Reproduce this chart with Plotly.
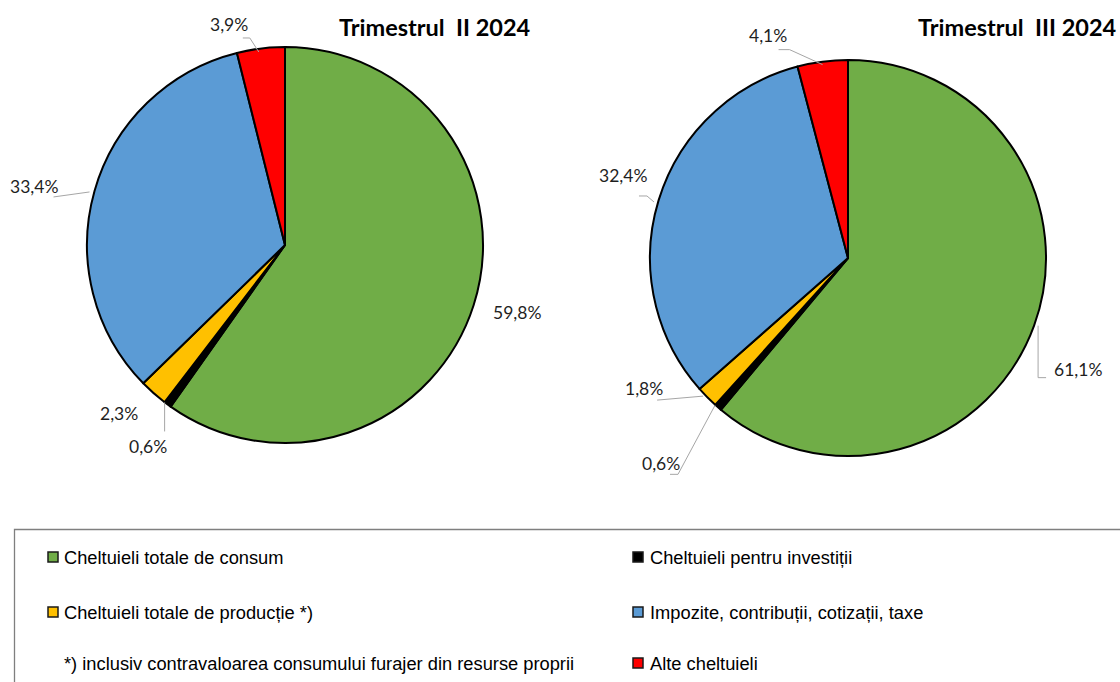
import math
import plotly.graph_objects as go

# ---------------- data ----------------
categories = [
    "Cheltuieli totale de consum",
    "Cheltuieli pentru investiții",
    "Cheltuieli totale de producție *)",
    "Impozite, contribuții, cotizații, taxe",
    "Alte cheltuieli",
]
q2_values = [59.8, 0.6, 2.3, 33.4, 3.9]
q3_values = [61.1, 0.6, 1.8, 32.4, 4.1]
titles = ["Trimestrul\u00a0 II 2024", "Trimestrul\u00a0 III 2024"]
footnote = "*) inclusiv contravaloarea consumului furajer din resurse proprii"

# ---------------- styles ----------------
colors = ["#70AD47", "#000000", "#FFC000", "#5B9BD5", "#FF0000"]
W, H = 1120, 682
LABEL_FONT = dict(family="Lato, Carlito, Calibri, sans-serif", size=17.5, color="#1f1f1f")
TITLE_FONT = dict(family="Lato, Carlito, Calibri, sans-serif", size=23.5, color="#000000")
LEGEND_FONT = dict(family="Liberation Sans, Arial, sans-serif", size=18.3, color="#000000")
LEADER_COLOR = "#A6A6A6"

# pie geometry (pixels) and per-slice label offsets / leader polylines (relative to slice anchor)
pie_styles = [
    dict(cx=285, cy=245, r=198, title_right=533, title_y=27,
         offsets=[(43, 7), (-20, 42), (-35, 20), (-61, -4), (-32, -23.5)],
         leaders=[None,
                  [(-3, -2), (-3, 27)],
                  None,
                  [(-5, 1), (-41, 6)],
                  [(-2, 3.5), (-11, -10.5), (-18, -10.5)]]),
    dict(cx=848, cy=258, r=198, title_right=1119, title_y=27,
         offsets=[(44, 44), (-57, 56), (-63, -9), (-36, -25), (-54.5, -26.6)],
         leaders=[[(4, 0), (4, 52), (12, 52)],
                  [(-3, -2), (-40, 67), (-48, 67)],
                  [(-4, -1), (-50, 3)],
                  [(-4.6, 1.6), (-11.6, -4.4), (-19.6, -4.4)],
                  [(0, 3), (-33, -12), (-44, -12)]]),
]


def px(x):
    return x / W


def py(y):
    return 1 - y / H


def fmt(v):
    return f"{v:.1f}".replace(".", ",") + "%"


fig = go.Figure()
annotations = []
shapes = []

for values, title, st in zip([q2_values, q3_values], titles, pie_styles):
    cx, cy, r = st["cx"], st["cy"], st["r"]
    fig.add_trace(go.Pie(
        values=values,
        labels=categories,
        marker=dict(colors=colors, line=dict(color="#000000", width=2)),
        sort=False,
        direction="clockwise",
        rotation=0,
        textinfo="none",
        showlegend=False,
        hovertemplate="%{label}: %{value}%<extra></extra>",
        domain=dict(x=[px(cx - r), px(cx + r)], y=[py(cy + r), py(cy - r)]),
    ))
    total = sum(values)
    cum = 0.0
    for v, off, lead in zip(values, st["offsets"], st["leaders"]):
        theta = 2 * math.pi * (cum + v / 2) / total
        cum += v
        ax = cx + r * math.sin(theta)
        ay = cy - r * math.cos(theta)
        annotations.append(dict(
            x=px(ax + off[0]), y=py(ay + off[1]), xref="paper", yref="paper",
            text=fmt(v), showarrow=False, xanchor="center", yanchor="middle",
            font=LABEL_FONT,
        ))
        if lead:
            path = "M " + " L ".join(f"{px(ax + dx)},{py(ay + dy)}" for dx, dy in lead)
            shapes.append(dict(type="path", xref="paper", yref="paper", path=path,
                               line=dict(color=LEADER_COLOR, width=1)))
    annotations.append(dict(
        x=px(st["title_right"]), y=py(st["title_y"]), xref="paper", yref="paper",
        text=f"<b>{title}</b>", showarrow=False, xanchor="right", yanchor="middle",
        font=TITLE_FONT,
    ))

# ---------------- legend (drawn as a boxed two-column key) ----------------
shapes.append(dict(type="rect", xref="paper", yref="paper",
                   x0=px(14.5), x1=px(1135), y0=py(529.5), y1=py(700),
                   line=dict(color="#7F7F7F", width=1.3), fillcolor="rgba(0,0,0,0)"))
col_marker_x = [48, 633]
col_text_x = [62, 648]
row_y = [557, 612, 663]
legend_grid = [(0, 0), (1, 0), (0, 1), (1, 1), (1, 2)]
for name, color, (c, rw) in zip(categories, colors, legend_grid):
    mx, my = col_marker_x[c], row_y[rw]
    shapes.append(dict(type="rect", xref="paper", yref="paper",
                       x0=px(mx), x1=px(mx + 10), y0=py(my + 5), y1=py(my - 5),
                       line=dict(color="#1a1a1a", width=1.5), fillcolor=color))
    annotations.append(dict(x=px(col_text_x[c]), y=py(row_y[rw]), xref="paper", yref="paper",
                            text=name, showarrow=False, xanchor="left", yanchor="middle",
                            font=LEGEND_FONT))
annotations.append(dict(x=px(col_text_x[0]), y=py(row_y[2]), xref="paper", yref="paper",
                        text=footnote, showarrow=False, xanchor="left", yanchor="middle",
                        font=LEGEND_FONT))

fig.update_layout(
    width=W, height=H,
    margin=dict(l=0, r=0, t=0, b=0),
    paper_bgcolor="#FFFFFF", plot_bgcolor="#FFFFFF",
    annotations=annotations,
    shapes=shapes,
    showlegend=False,
)

fig.write_html(
    "out.html",
    config={"displayModeBar": False},
    post_script="document.body.style.margin='0';document.body.style.overflow='hidden';",
)
